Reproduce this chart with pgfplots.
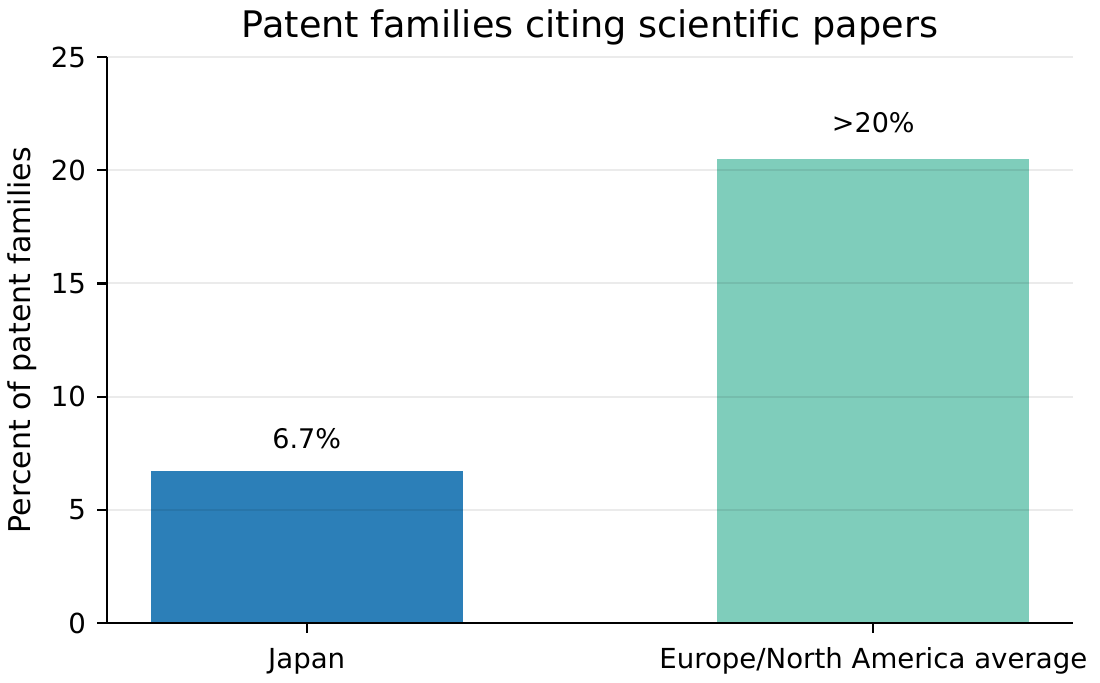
\documentclass[border=0pt]{standalone}
\usepackage{pgfplots}
\pgfplotsset{compat=1.18}
\usepackage{fontspec}
\setmainfont{DejaVu Sans}[Ligatures=NoCommon]
\definecolor{jpblue}{HTML}{2C7FB8}
\definecolor{euteal}{HTML}{7FCDBB}
\begin{document}
\begin{tikzpicture}
\useasboundingbox (0,0) rectangle (550pt,341pt);
\begin{axis}[
  at={(53.5pt,29.5pt)}, anchor=south west,
  scale only axis, width=483pt, height=283pt,
  xmin=-0.3525, xmax=1.3525, ymin=0, ymax=25,
  axis lines*=left,
  axis line style={line width=1.1pt, black},
  tick align=outside,
  major tick length=4.85pt,
  every tick/.style={line width=1.1pt, black},
  xtick={0,1}, xticklabels={Japan, Europe/North America average},
  ytick={0,5,10,15,20,25},
  /pgf/number format/assume math mode=true,
  ymajorgrids, grid style={line width=1pt, black, opacity=0.08},
  axis on top,
  xticklabel style={font=\fontsize{13.8pt}{16pt}\selectfont, anchor=base, yshift=-18pt, inner sep=0pt},
  yticklabel style={font=\fontsize{13.8pt}{16pt}\selectfont, anchor=east, inner sep=0pt, xshift=-5.5pt},
  ylabel={Percent of patent families},
  ylabel style={font=\fontsize{15pt}{18pt}\selectfont, at={(axis description cs:-0.088,0.5)}, rotate=0, anchor=center, inner sep=0pt},
  title={Patent families citing scientific papers},
  title style={font=\fontsize{18.3pt}{22pt}\selectfont, at={(axis description cs:0.5,1)}, anchor=base, yshift=4pt, inner sep=0pt},
  ybar, bar width=0.55, bar shift=0pt,
  ]
\addplot[fill=jpblue, draw=none] coordinates {(0,6.7)};
\addplot[fill=euteal, draw=none] coordinates {(1,20.5)};
\node[anchor=base, inner sep=0pt, font=\fontsize{13.5pt}{16pt}\selectfont] at (axis cs:0,7.7) {6.7\%};
\node[anchor=base, inner sep=0pt, font=\fontsize{13.5pt}{16pt}\selectfont] at (axis cs:1,21.65) {>20\%};
\end{axis}
\end{tikzpicture}
\end{document}
